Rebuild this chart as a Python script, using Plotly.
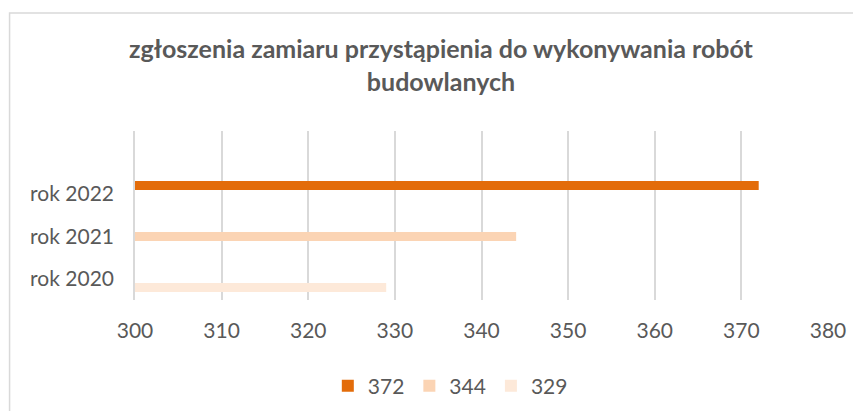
import plotly.graph_objects as go

# values
years = ["rok 2020", "rok 2021", "rok 2022"]
values = [329, 344, 372]
series_names = ["329", "344", "372"]
colors = ["#FDE9D9", "#FBD4B4", "#E36C0A"]
x_ticks = [300, 310, 320, 330, 340, 350, 360, 370, 380]

FONT = "Lato, 'Open Sans', sans-serif"
TEXT = "#595959"
GRID = "#d9d9d9"

# the page body keeps its default 8px margin, so the figure is 8px smaller
W, H = 853, 403

fig = go.Figure()

# one series per year, legend shows them from the largest down
for i in reversed(range(len(years))):
    fig.add_trace(
        go.Bar(
            y=[years[i]],
            x=[values[i]],
            name=series_names[i],
            orientation="h",
            marker=dict(color=colors[i], line=dict(width=0)),
            width=0.176,
        )
    )

# empty helper trace so the label axis gets drawn
fig.add_trace(
    go.Scatter(x=[], y=[], yaxis="y2", showlegend=False, hoverinfo="skip")
)

fig.update_layout(
    width=W,
    height=H,
    paper_bgcolor="white",
    plot_bgcolor="white",
    barmode="overlay",
    font=dict(family=FONT, color=TEXT, size=21),
    title=dict(
        text="<b>zgłoszenia zamiaru przystąpienia do wykonywania robót<br>budowlanych</b>",
        font=dict(family=FONT, size=25, color=TEXT),
        x=433 / W,
        xanchor="center",
        xref="container",
        yref="container",
        y=1 - 50 / H,
        yanchor="top",
    ),
    margin=dict(l=127, r=33, t=123, b=111, autoexpand=False),
    xaxis=dict(
        range=[300, 380],
        tickvals=x_ticks,
        showgrid=True,
        gridcolor=GRID,
        gridwidth=1.5,
        zeroline=False,
        showline=False,
        ticks="",
        ticklabelstandoff=16,
        tickfont=dict(size=21, color=TEXT),
        fixedrange=True,
        automargin=False,
    ),
    yaxis=dict(
        type="category",
        categoryorder="array",
        categoryarray=years,
        range=[-0.245, 3.069],
        showticklabels=False,
        showgrid=False,
        zeroline=False,
        showline=True,
        linecolor=GRID,
        linewidth=1.5,
        ticks="",
        automargin=False,
    ),
    # year labels sit a little off the bars in the reference, so they get their own axis
    yaxis2=dict(
        overlaying="y",
        anchor="x",
        side="left",
        range=[-0.494, 3.482],
        tickmode="array",
        tickvals=list(range(len(years))),
        ticktext=years,
        showgrid=False,
        zeroline=False,
        showline=False,
        ticks="",
        ticklabelstandoff=20,
        tickfont=dict(size=21, color=TEXT),
        automargin=False,
    ),
    legend=dict(
        orientation="h",
        x=0.455,
        xanchor="center",
        yref="container",
        y=25 / H,
        yanchor="middle",
        font=dict(size=21, color=TEXT),
        itemwidth=30,
        traceorder="normal",
    ),
    shapes=[
        dict(
            type="rect",
            xref="paper",
            yref="paper",
            x0=-0.181,
            x1=1.06,
            y0=-0.7,
            y1=1.698,
            line=dict(color=GRID, width=1.5),
            fillcolor="rgba(0,0,0,0)",
            layer="below",
        )
    ],
)

fig.write_html("out.html")
